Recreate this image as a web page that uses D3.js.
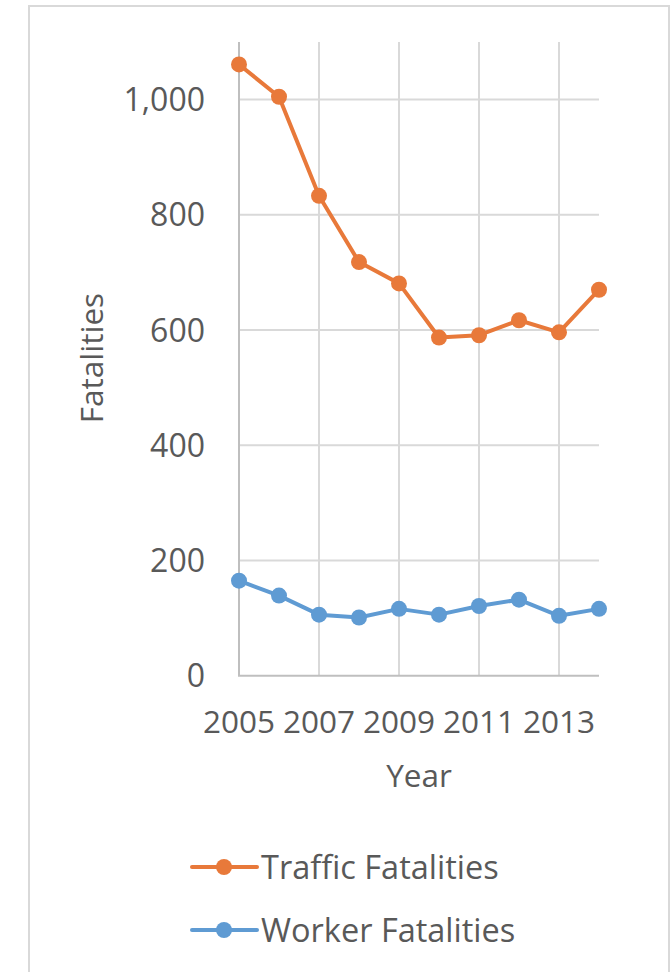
<!DOCTYPE html>
<html>
<head>
<meta charset="utf-8">
<script src="https://cdn.jsdelivr.net/npm/d3@7"></script>
<style>
  body { margin: 0; background: #fff; }
  text { font-family: "Open Sans", sans-serif; fill: #595959; }
</style>
</head>
<body>
<div id="chart"></div>
<script>
// data
const years = [2005, 2006, 2007, 2008, 2009, 2010, 2011, 2012, 2013, 2014]
const traffic = [1061, 1005, 833, 718, 681, 587, 591, 617, 596, 670]
const workers = [165, 139, 106, 101, 116, 106, 121, 132, 104, 116]
const yTicks = [0, 200, 400, 600, 800, 1000]
const xTicks = [2005, 2007, 2009, 2011, 2013]
const seriesNames = ["Traffic Fatalities", "Worker Fatalities"]
const colors = ["#E8793A", "#5F9BD3"]

const W = 672, H = 972
const svg = d3.select("#chart").append("svg")
    .attr("width", W)
    .attr("height", H)

// outer frame
svg.append("rect")
    .attr("x", 29).attr("y", 6)
    .attr("width", 640).attr("height", H)
    .attr("fill", "none")
    .attr("stroke", "#d9d9d9")
    .attr("stroke-width", 2)

const x = d3.scaleLinear().domain([2005, 2014]).range([239, 599])
const y = d3.scaleLinear().domain([0, 1100]).range([675.7, 42])

// horizontal grid
svg.append("g")
    .selectAll("line")
    .data(yTicks.filter(d => d > 0))
    .enter()
    .append("line")
        .attr("x1", x(2005)).attr("x2", x(2014))
        .attr("y1", d => y(d)).attr("y2", d => y(d))
        .attr("stroke", "#d9d9d9")
        .attr("stroke-width", 2)

// vertical grid
svg.append("g")
    .selectAll("line")
    .data(xTicks.filter(d => d > 2005))
    .enter()
    .append("line")
        .attr("x1", d => x(d)).attr("x2", d => x(d))
        .attr("y1", y(1100)).attr("y2", y(0))
        .attr("stroke", "#d9d9d9")
        .attr("stroke-width", 2)

// axis lines
svg.append("line")
    .attr("x1", x(2005)).attr("x2", x(2005))
    .attr("y1", y(1100)).attr("y2", y(0))
    .attr("stroke", "#bfbfbf").attr("stroke-width", 2)
svg.append("line")
    .attr("x1", x(2005) - 1).attr("x2", x(2014))
    .attr("y1", y(0)).attr("y2", y(0))
    .attr("stroke", "#bfbfbf").attr("stroke-width", 2)

// tick labels
svg.append("g")
    .selectAll("text")
    .data(yTicks)
    .enter()
    .append("text")
        .attr("x", 205)
        .attr("y", d => y(d))
        .attr("dy", "0.36em")
        .attr("text-anchor", "end")
        .attr("font-size", 32)
        .text(d3.format(","))

svg.append("g")
    .selectAll("text")
    .data(xTicks)
    .enter()
    .append("text")
        .attr("x", d => x(d))
        .attr("y", 733)
        .attr("text-anchor", "middle")
        .attr("font-size", 31.5)
        .text(d => d)

// axis titles
svg.append("text")
    .attr("transform", "translate(103,358) rotate(-90)")
    .attr("text-anchor", "middle")
    .attr("font-size", 31.5)
    .text("Fatalities")

svg.append("text")
    .attr("x", 419).attr("y", 787)
    .attr("text-anchor", "middle")
    .attr("font-size", 31.5)
    .text("Year")

// series
const line = d3.line().x((d, i) => x(years[i])).y(d => y(d))
;[traffic, workers].forEach((vals, s) => {
    let g = svg.append("g")
    g.append("path")
        .attr("d", line(vals))
        .attr("fill", "none")
        .attr("stroke", colors[s])
        .attr("stroke-width", 4)
        .attr("stroke-linejoin", "round")
    g.selectAll("circle")
        .data(vals)
        .enter()
        .append("circle")
            .attr("cx", (d, i) => x(years[i]))
            .attr("cy", d => y(d))
            .attr("r", 8)
            .attr("fill", colors[s])
})

// legend
const legend = svg.append("g")
    .selectAll("g")
    .data(seriesNames)
    .enter()
    .append("g")
    .attr("transform", (d, i) => "translate(0," + (867 + i * 63) + ")")
legend.append("line")
    .attr("x1", 192).attr("x2", 257)
    .attr("stroke", (d, i) => colors[i])
    .attr("stroke-width", 4)
    .attr("stroke-linecap", "round")
legend.append("circle")
    .attr("cx", 224).attr("r", 8)
    .attr("fill", (d, i) => colors[i])
legend.append("text")
    .attr("x", 261)
    .attr("dy", "0.36em")
    .attr("font-size", 32.5)
    .text(d => d)
</script>
</body>
</html>
